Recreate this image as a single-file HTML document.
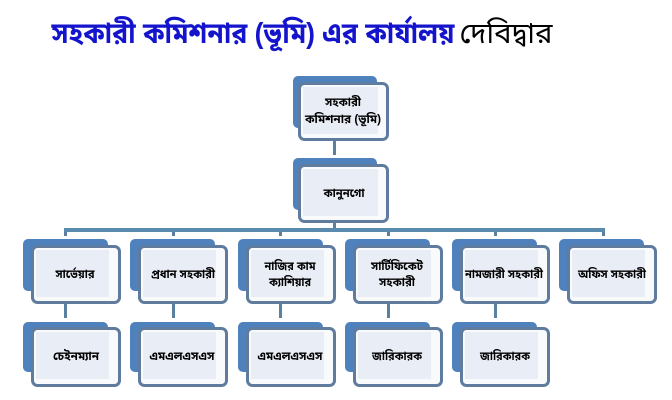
<!DOCTYPE html>
<html lang="bn">
<head>
<meta charset="utf-8">
<title>সহকারী কমিশনার (ভূমি) এর কার্যালয় দেবিদ্বার</title>
<style>
html,body{margin:0;padding:0;background:#fff;width:672px;height:400px;overflow:hidden}
svg{display:block}
text{font-family:"Liberation Sans","Noto Sans Bengali","Lohit Bengali","Noto Sans CJK SC",sans-serif;text-anchor:middle;font-weight:bold;font-size:12px;fill:#000}
.b{fill:#4f81bd}
.f{fill:#f8fafc;stroke:#5f7b9e;stroke-width:3}
.i{fill:#e9edf5}
.c{fill:#5b7f9f}
</style>
</head>
<body>
<svg width="672" height="400" viewBox="0 0 672 400" xmlns="http://www.w3.org/2000/svg">
<defs>
<g id="s1"><rect class="b" x="0" y="0" width="85" height="52" rx="5"/><rect class="f" x="9.5" y="7.5" width="87" height="56" rx="5"/><rect class="i" x="13" y="11" width="73" height="47"/></g>
<g id="s2"><rect class="b" x="0" y="0" width="85" height="50" rx="5"/><rect class="f" x="9.5" y="6.5" width="87" height="57" rx="5"/><rect class="i" x="13" y="10" width="73" height="47"/></g>
<g id="s3"><rect class="b" x="0" y="0" width="84" height="52" rx="5"/><rect class="f" x="6.5" y="7.5" width="88" height="56" rx="5"/><rect class="i" x="10" y="11" width="75" height="47"/></g>
</defs>

<text x="253" y="43" textLength="403" lengthAdjust="spacingAndGlyphs" style="font-size:29px;fill:#1414cc">সহকারী কমিশনার (ভূমি) এর কার্যালয়</text>
<text x="506" y="43" textLength="93" lengthAdjust="spacingAndGlyphs" style="font-size:29px;font-weight:normal">দেবিদ্বার</text>

<rect class="c" x="333" y="139" width="3" height="16"/>
<rect class="c" x="333" y="222" width="3" height="7"/>
<rect x="64" y="228" width="541" height="4" fill="#5b8aaf"/>
<rect class="c" x="64" y="232" width="3" height="4"/>
<rect class="c" x="172" y="232" width="3" height="4"/>
<rect class="c" x="279" y="232" width="3" height="4"/>
<rect class="c" x="387" y="232" width="3" height="4"/>
<rect class="c" x="494" y="232" width="3" height="4"/>
<rect class="c" x="602" y="232" width="3" height="4"/>
<rect class="c" x="64" y="302" width="3" height="16"/>
<rect class="c" x="172" y="302" width="3" height="16"/>
<rect class="c" x="279" y="302" width="3" height="16"/>
<rect class="c" x="387" y="302" width="3" height="16"/>
<rect class="c" x="494" y="302" width="3" height="16"/>

<use href="#s3" x="293" y="76"/>
<use href="#s3" x="293" y="158"/>
<use href="#s1" x="23" y="239"/>
<use href="#s1" x="130" y="239"/>
<use href="#s1" x="238" y="239"/>
<use href="#s1" x="345" y="239"/>
<use href="#s1" x="452" y="239"/>
<use href="#s1" x="559" y="239"/>
<use href="#s2" x="23" y="322"/>
<use href="#s2" x="130" y="322"/>
<use href="#s2" x="238" y="322"/>
<use href="#s2" x="345" y="322"/>
<use href="#s2" x="452" y="322"/>

<text x="343" y="106" textLength="36" lengthAdjust="spacingAndGlyphs">সহকারী</text>
<text x="343" y="123" textLength="76" lengthAdjust="spacingAndGlyphs">কমিশনার (ভূমি)</text>
<text x="344" y="197" textLength="41" lengthAdjust="spacingAndGlyphs">কানুনগো</text>

<text x="75" y="278" textLength="39" lengthAdjust="spacingAndGlyphs">সার্ভেয়ার</text>
<text x="183" y="278" textLength="64" lengthAdjust="spacingAndGlyphs">প্রধান সহকারী</text>
<text x="290" y="270" textLength="51" lengthAdjust="spacingAndGlyphs">নাজির কাম</text>
<text x="290" y="286" textLength="42" lengthAdjust="spacingAndGlyphs">ক্যাশিয়ার</text>
<text x="397" y="270" textLength="52" lengthAdjust="spacingAndGlyphs">সার্টিফিকেট</text>
<text x="397" y="286" textLength="36" lengthAdjust="spacingAndGlyphs">সহকারী</text>
<text x="504" y="278" textLength="78" lengthAdjust="spacingAndGlyphs">নামজারী সহকারী</text>
<text x="612" y="278" textLength="68" lengthAdjust="spacingAndGlyphs">অফিস সহকারী</text>

<text x="76" y="360" textLength="46" lengthAdjust="spacingAndGlyphs">চেইনম্যান</text>
<text x="182" y="360" textLength="65" lengthAdjust="spacingAndGlyphs">এমএলএসএস</text>
<text x="290" y="360" textLength="65" lengthAdjust="spacingAndGlyphs">এমএলএসএস</text>
<text x="397" y="360" textLength="50" lengthAdjust="spacingAndGlyphs">জারিকারক</text>
<text x="505" y="360" textLength="50" lengthAdjust="spacingAndGlyphs">জারিকারক</text>
</svg>
</body>
</html>
